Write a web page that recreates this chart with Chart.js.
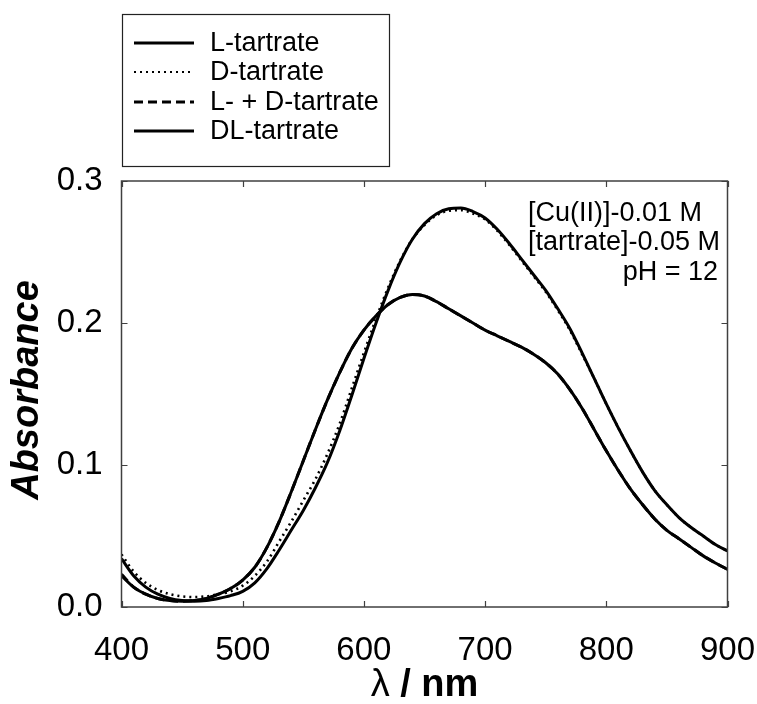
<!DOCTYPE html>
<html>
<head>
<meta charset="utf-8">
<script src="https://cdn.jsdelivr.net/npm/chart.js@4/dist/chart.umd.min.js"></script>
<style>
  html, body { margin: 0; padding: 0; background: #fff; }
  #wrap { width: 757px; height: 704px; position: relative; }
</style>
</head>
<body>
<div id="wrap"><canvas id="c" width="757" height="704"></canvas></div>
<script>
// Wavelength grid (nm)
const wavelengths = [400,410,420,430,440,450,460,470,480,490,500,510,520,530,540,550,560,570,580,590,
  600,610,620,630,640,650,660,670,680,690,700,710,720,730,740,750,760,770,780,790,
  800,810,820,830,840,850,860,870,880,890,900];

// Absorbance of each Cu(II)-tartrate solution
const lTartrate = [0.034,0.022,0.014,0.009,0.006,0.0045,0.004,0.0045,0.006,0.008,
  0.011,0.017,0.027,0.040,0.054,0.068,0.084,0.102,0.124,0.149,
  0.175,0.200,0.223,0.243,0.259,0.270,0.277,0.2805,0.281,0.2785,
  0.274,0.266,0.256,0.245,0.234,0.223,0.210,0.196,0.179,0.161,
  0.143,0.126,0.110,0.095,0.082,0.072,0.063,0.056,0.050,0.044,0.0395];

const dTartrate = [0.037,0.025,0.017,0.012,0.009,0.0075,0.007,0.0075,0.009,0.011,
  0.015,0.022,0.032,0.046,0.060,0.075,0.090,0.108,0.129,0.154,
  0.179,0.203,0.225,0.244,0.259,0.269,0.276,0.279,0.2795,0.277,
  0.273,0.265,0.255,0.244,0.233,0.222,0.209,0.195,0.178,0.161,
  0.143,0.126,0.110,0.095,0.082,0.072,0.063,0.056,0.050,0.044,0.0395];

const ldMixture = [0.023,0.014,0.009,0.006,0.0045,0.004,0.0045,0.006,0.009,0.013,
  0.019,0.028,0.042,0.060,0.081,0.103,0.125,0.146,0.165,0.182,
  0.195,0.205,0.213,0.218,0.220,0.219,0.215,0.210,0.205,0.200,
  0.195,0.191,0.187,0.183,0.178,0.172,0.164,0.153,0.140,0.125,
  0.110,0.096,0.083,0.072,0.062,0.054,0.048,0.042,0.036,0.031,0.0265];

const dlTartrate = [0.022,0.014,0.009,0.006,0.0045,0.004,0.0045,0.006,0.009,0.013,
  0.019,0.028,0.042,0.060,0.081,0.103,0.125,0.146,0.165,0.182,
  0.195,0.205,0.213,0.218,0.220,0.219,0.215,0.210,0.205,0.200,
  0.195,0.191,0.187,0.183,0.178,0.172,0.164,0.153,0.140,0.125,
  0.110,0.096,0.083,0.072,0.062,0.054,0.048,0.042,0.036,0.031,0.0265];

const seriesLabels = ['L-tartrate', 'D-tartrate', 'L- + D-tartrate', 'DL-tartrate'];
const xTicks = [400, 500, 600, 700, 800, 900];
const yTicks = [0.0, 0.1, 0.2, 0.3];
const conditions = ['[Cu(II)]-0.01 M', '[tartrate]-0.05 M', 'pH = 12'];

const FONT = '"Liberation Sans", Arial, Helvetica, sans-serif';

function pts(values) {
  return wavelengths.map((w, i) => ({ x: w, y: values[i] }));
}

const lineBase = { pointRadius: 0, fill: false, borderColor: '#000', cubicInterpolationMode: 'monotone' };

const datasets = [
  Object.assign({}, lineBase, { label: seriesLabels[1], data: pts(dTartrate), borderWidth: 2.6, borderDash: [2, 4], order: 4 }),
  Object.assign({}, lineBase, { label: seriesLabels[0], data: pts(lTartrate), borderWidth: 3, order: 3 }),
  Object.assign({}, lineBase, { label: seriesLabels[2], data: pts(ldMixture), borderWidth: 3, borderDash: [9, 5], order: 2 }),
  Object.assign({}, lineBase, { label: seriesLabels[3], data: pts(dlTartrate), borderWidth: 3, order: 1 })
];

// Frame, inward ticks on all four sides, legend box, notes and axis titles
const decorations = {
  id: 'decorations',
  afterDraw(chart) {
    const ctx = chart.ctx;
    const a = chart.chartArea;
    const xs = chart.scales.x, ys = chart.scales.y;
    ctx.save();
    ctx.strokeStyle = '#404040';
    ctx.lineWidth = 1.5;
    ctx.strokeRect(a.left, a.top, a.right - a.left, a.bottom - a.top);
    const tl = 6;
    ctx.beginPath();
    xTicks.forEach(v => {
      const px = Math.round(xs.getPixelForValue(v)) + 0.5;
      ctx.moveTo(px, a.bottom); ctx.lineTo(px, a.bottom - tl);
      ctx.moveTo(px, a.top); ctx.lineTo(px, a.top + tl);
    });
    yTicks.forEach(v => {
      const py = Math.round(ys.getPixelForValue(v)) + 0.5;
      ctx.moveTo(a.left, py); ctx.lineTo(a.left + tl, py);
      ctx.moveTo(a.right, py); ctx.lineTo(a.right - tl, py);
    });
    ctx.lineWidth = 1.2;
    ctx.stroke();

    // legend
    ctx.strokeStyle = '#222';
    ctx.lineWidth = 1.2;
    ctx.strokeRect(122.5, 14.5, 267, 152);
    const order = [1, 0, 2, 3];
    const rowY = [43, 72, 102, 131];
    ctx.font = '27px ' + FONT;
    ctx.textBaseline = 'middle';
    ctx.textAlign = 'left';
    ctx.fillStyle = '#000';
    order.forEach((di, r) => {
      const ds = chart.data.datasets[di];
      ctx.beginPath();
      ctx.strokeStyle = '#000';
      ctx.lineWidth = ds.borderDash ? (ds.borderDash[0] < 4 ? 2.2 : 3) : 3;
      ctx.setLineDash(ds.borderDash || []);
      ctx.moveTo(134, rowY[r]); ctx.lineTo(194, rowY[r]);
      ctx.stroke();
      ctx.setLineDash([]);
      ctx.fillText(ds.label, 210, rowY[r] + 1);
    });

    // experimental conditions
    ctx.font = '27px ' + FONT;
    ctx.textAlign = 'left';
    ctx.fillText(conditions[0], 528, 214);
    ctx.fillText(conditions[1], 528, 243);
    ctx.textAlign = 'right';
    ctx.fillText(conditions[2], 718, 273);

    // x-axis title: λ / nm
    const cx = (a.left + a.right) / 2;
    ctx.font = '38px ' + FONT;
    const w1 = ctx.measureText('λ').width;
    ctx.font = 'bold 38px ' + FONT;
    const w2 = ctx.measureText(' / nm').width;
    let sx = cx - (w1 + w2) / 2;
    ctx.textAlign = 'left';
    ctx.font = '38px ' + FONT;
    ctx.fillText('λ', sx, 686);
    ctx.font = 'bold 38px ' + FONT;
    ctx.fillText(' / nm', sx + w1, 686);

    // y-axis title
    ctx.translate(28, (a.top + a.bottom) / 2 - 4);
    ctx.rotate(-Math.PI / 2);
    ctx.textAlign = 'center';
    ctx.font = 'italic bold 38px ' + FONT;
    ctx.fillText('Absorbance', 0, 0);
    ctx.restore();
  }
};

new Chart(document.getElementById('c'), {
  type: 'line',
  data: { datasets },
  options: {
    responsive: false,
    animation: false,
    devicePixelRatio: 1,
    layout: { autoPadding: false, padding: { top: 181, right: 29.5, left: 0, bottom: 0 } },
    plugins: { legend: { display: false }, tooltip: { enabled: false } },
    scales: {
      x: {
        type: 'linear', min: 400, max: 900,
        grid: { display: false, drawTicks: false },
        border: { display: false },
        afterBuildTicks: s => { s.ticks = xTicks.map(v => ({ value: v })); },
        afterFit: s => { s.height = 97; s.paddingLeft = 0; s.paddingRight = 0; },
        ticks: { color: '#000', padding: 24, font: { family: FONT, size: 33 }, maxRotation: 0,
                 callback: v => String(v) }
      },
      y: {
        type: 'linear', min: 0, max: 0.3,
        grid: { display: false, drawTicks: false },
        border: { display: false },
        afterBuildTicks: s => { s.ticks = yTicks.map(v => ({ value: v })); },
        afterFit: s => { s.width = 121.5; s.paddingTop = 0; s.paddingBottom = 0; },
        ticks: { color: '#000', padding: 19, font: { family: FONT, size: 33 },
                 callback: v => Number(v).toFixed(1) }
      }
    }
  },
  plugins: [decorations]
});
</script>
</body>
</html>
